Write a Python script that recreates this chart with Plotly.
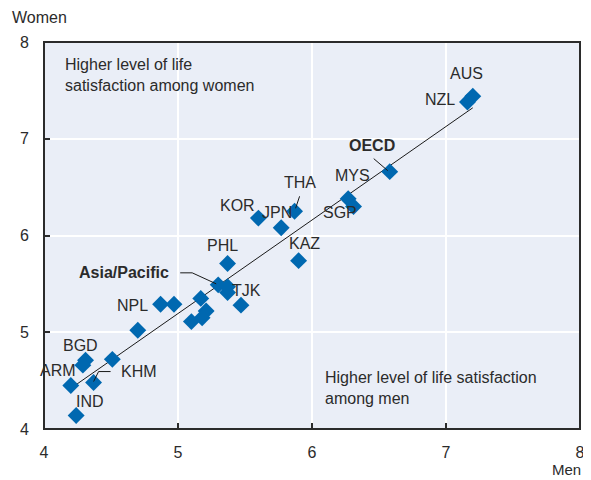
import plotly.graph_objects as go

_FONT = "Liberation Sans, Arial, sans-serif"
_TEXT = "#2b2b2b"
_BLUE = "#0068b0"
_LINE = "#1a1a1a"

# life satisfaction scores (0-10), men vs women
codes = ["AUS", "NZL", "OECD", "MYS", "SGP", "THA", "JPN", "KOR", "KAZ", "PHL",
         "Asia/Pacific", "TJK", "", "", "", "", "", "", "", "NPL", "", "BGD", "",
         "", "KHM", "ARM", "IND"]
men = [7.20, 7.16, 6.58, 6.27, 6.31, 5.87, 5.77, 5.60, 5.90, 5.37,
       5.30, 5.37, 5.37, 5.47, 5.17, 5.21, 5.18, 5.10, 4.97, 4.87, 4.70, 4.31, 4.29,
       4.51, 4.37, 4.20, 4.24]
women = [7.44, 7.38, 6.66, 6.38, 6.30, 6.25, 6.08, 6.18, 5.74, 5.71,
         5.49, 5.41, 5.47, 5.28, 5.35, 5.22, 5.15, 5.11, 5.29, 5.29, 5.02, 4.71, 4.66,
         4.72, 4.48, 4.45, 4.14]

trend_x = [4.20, 7.20]
trend_y = [4.42, 7.32]

# label placement in pixels relative to the marker: (xshift, yshift, xanchor, bold)
label_pos = {
    "AUS": (-6, 23, "center", False),
    "NZL": (-27, 2, "center", False),
    "OECD": (-18, 26, "center", True),
    "MYS": (4, 23, "center", False),
    "SGP": (-14, -6, "center", False),
    "THA": (5, 29, "center", False),
    "JPN": (-4, 15, "center", False),
    "KOR": (-21, 13, "center", False),
    "KAZ": (6, 17, "center", False),
    "PHL": (-5, 18, "center", False),
    "Asia/Pacific": (-47, 12, "right", True),
    "TJK": (19, 2, "center", False),
    "NPL": (-28, -1, "center", False),
    "BGD": (-5, 15, "center", False),
    "KHM": (25, 11, "left", False),
    "ARM": (-13, 15, "center", False),
    "IND": (14, 14, "center", False),
}
# leader lines, pixel paths relative to the marker (y up)
leaders = {
    "OECD": "M -16,13 L -2,1",
    "THA": "M 5,15 L 1,3",
    "Asia/Pacific": "M -38,12 L -26,12 L -2,1",
    "KHM": "M 17,11 L 5,11 L 0,1",
}

fig = go.Figure()
fig.add_trace(go.Scatter(x=trend_x, y=trend_y, mode="lines",
                         line=dict(color=_LINE, width=1), hoverinfo="skip"))
fig.add_trace(go.Scatter(x=men, y=women, mode="markers", text=codes,
                         marker=dict(symbol="diamond", size=13, color=_BLUE),
                         hovertemplate="%{text}<br>Men %{x}<br>Women %{y}<extra></extra>"))

for c, xm, yw in zip(codes, men, women):
    if c not in label_pos:
        continue
    dx, dy, anchor, bold = label_pos[c]
    txt = f"<b>{c}</b>" if bold else c
    fig.add_annotation(x=xm, y=yw, text=txt, showarrow=False, xanchor=anchor,
                       xshift=dx, yshift=dy, font=dict(size=16, color=_TEXT))
    if c in leaders:
        fig.add_shape(type="path", xref="x", yref="y", xsizemode="pixel",
                      ysizemode="pixel", xanchor=xm, yanchor=yw, path=leaders[c],
                      line=dict(color=_LINE, width=1))

fig.add_annotation(x=0.035, y=0.97, xref="paper", yref="paper", xanchor="left",
                   yanchor="top", align="left", showarrow=False,
                   text="Higher level of life<br>satisfaction among women",
                   font=dict(size=16, color=_TEXT))
fig.add_annotation(x=0.52, y=0.16, xref="paper", yref="paper", xanchor="left",
                   yanchor="top", align="left", showarrow=False,
                   text="Higher level of life satisfaction<br>among men",
                   font=dict(size=16, color=_TEXT))
fig.add_annotation(x=0, y=1, xref="paper", yref="paper", xanchor="left",
                   yanchor="bottom", xshift=-34, yshift=14, showarrow=False,
                   text="Women", font=dict(size=16, color=_TEXT))
fig.add_annotation(x=1, y=0, xref="paper", yref="paper", xanchor="right",
                   yanchor="top", xshift=3, yshift=-30, showarrow=False,
                   text="Men", font=dict(size=15, color=_TEXT))

# frame round the plot area
fig.add_shape(type="rect", xref="paper", yref="paper", x0=0, y0=0, x1=1, y1=1,
              line=dict(color="#2b2b2b", width=2), layer="above")

# the page body has an 8px margin, so the figure is 8px smaller than the window
fig.update_layout(
    width=583, height=472,
    font=dict(family=_FONT, size=16, color=_TEXT),
    paper_bgcolor="white", plot_bgcolor="#eaeef7",
    margin=dict(l=36, r=11, t=34, b=51, autoexpand=False),
    showlegend=False,
)
axis = dict(showline=False, ticks="inside", ticklen=6, tickcolor="#2b2b2b",
            tickwidth=2, gridcolor="white", gridwidth=2, zeroline=False, dtick=1,
            automargin=False, layer="above traces",
            tickfont=dict(size=16, color=_TEXT))
fig.update_xaxes(range=[4, 8], ticklabelstandoff=12, **axis)
fig.update_yaxes(range=[4, 8], ticklabelstandoff=14, **axis)

fig.write_html("out.html")
